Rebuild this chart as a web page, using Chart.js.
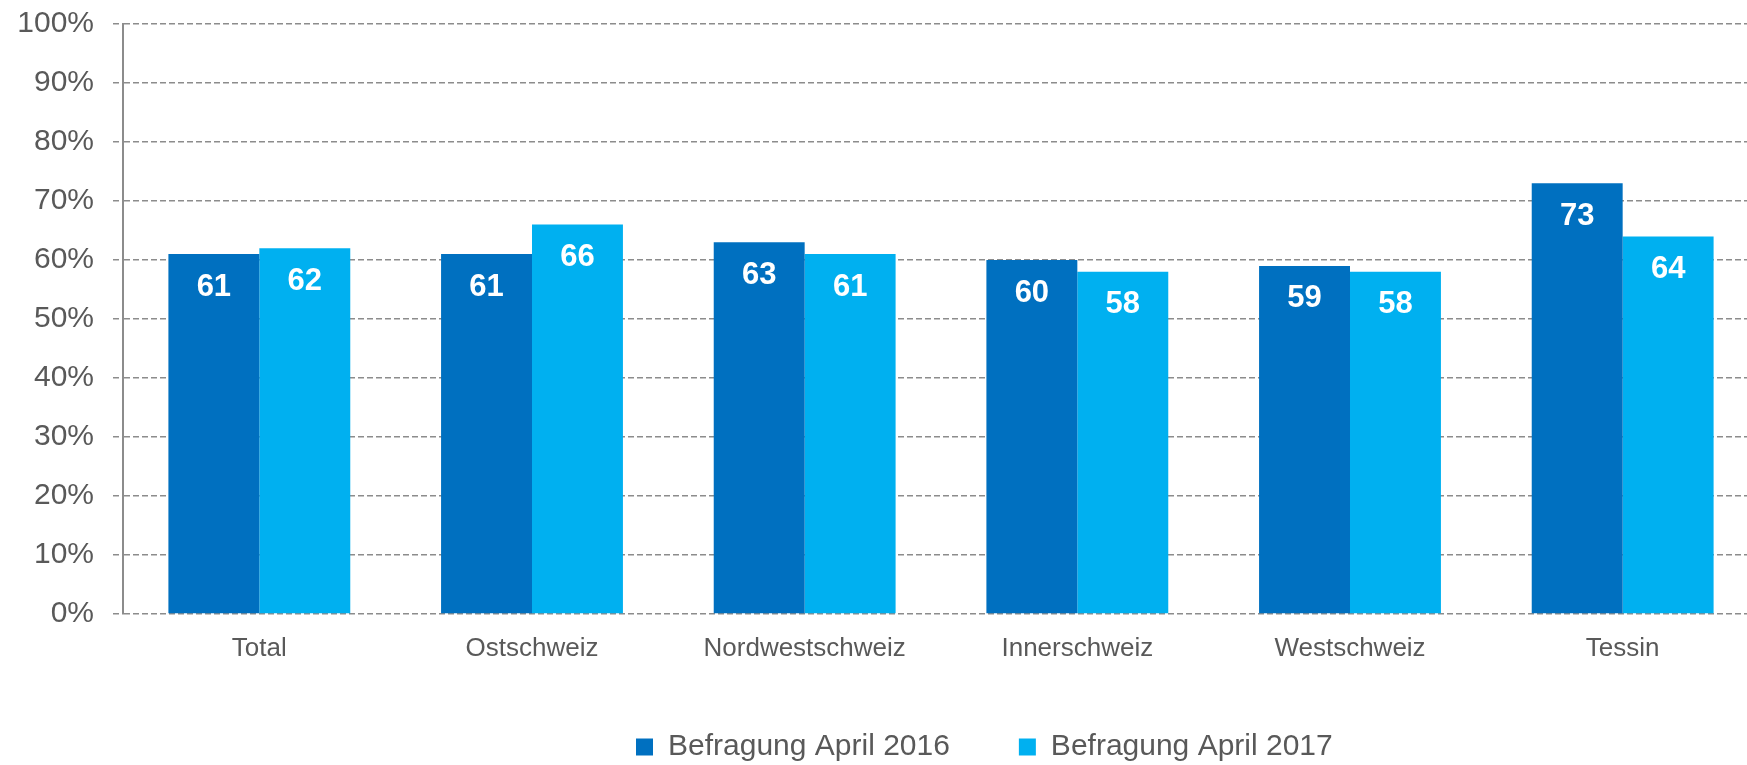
<!DOCTYPE html>
<html>
<head>
<meta charset="utf-8">
<script src="https://cdn.jsdelivr.net/npm/chart.js@4"></script>
<style>
  html, body { margin: 0; padding: 0; background: #ffffff; overflow: hidden; }
  #wrap { width: 1762px; height: 765px; }
</style>
</head>
<body>
<div id="wrap"><canvas id="c" width="1762" height="765"></canvas></div>
<script>
const categories = ['Total', 'Ostschweiz', 'Nordwestschweiz', 'Innerschweiz', 'Westschweiz', 'Tessin'];
const values2016 = [61, 61, 63, 60, 59, 73];
const values2017 = [62, 66, 61, 58, 58, 64];
const seriesNames = ['Befragung April 2016', 'Befragung April 2017'];
const yMin = 0, yMax = 100, yStep = 10;

const FONT = "'Liberation Sans', Arial, sans-serif";
const GRAY_TEXT = '#595959';
const GRID = '#8c8c8c';

const valueLabels = {
  id: 'valueLabels',
  afterDatasetsDraw(chart) {
    const ctx = chart.ctx;
    ctx.save();
    ctx.font = 'bold 31px ' + FONT;
    ctx.fillStyle = '#ffffff';
    ctx.textAlign = 'center';
    ctx.textBaseline = 'middle';
    chart.data.datasets.forEach((ds, di) => {
      const meta = chart.getDatasetMeta(di);
      meta.data.forEach((bar, i) => {
        ctx.fillText(String(ds.data[i]), bar.x, bar.y + 33);
      });
    });
    ctx.restore();
  }
};

const legendPlace = {
  id: 'legendPlace',
  afterLayout(chart) {
    const lg = chart.legend;
    if (!lg) return;
    const pad = lg.options.labels.padding;
    const itemH = lg.options.labels.font.size;
    lg.left = 636 - pad;
    lg.top = 747 - itemH / 2 - pad;
    lg.right = chart.width + 800;
    lg.bottom = chart.height;
    lg.width = lg.right - lg.left;
    lg.height = lg.bottom - lg.top;
  }
};

new Chart(document.getElementById('c'), {
  type: 'bar',
  data: {
    labels: categories,
    datasets: [
      { label: seriesNames[0], data: values2016, backgroundColor: '#0070C0', borderWidth: 0 },
      { label: seriesNames[1], data: values2017, backgroundColor: '#00B0F0', borderWidth: 0 }
    ]
  },
  options: {
    responsive: false,
    animation: false,
    devicePixelRatio: 1,
    layout: { padding: { top: 24, right: 3, bottom: 0, left: 0 } },
    datasets: { bar: { categoryPercentage: 0.667, barPercentage: 1.0 } },
    plugins: {
      tooltip: { enabled: false },
      legend: {
        position: 'bottom',
        align: 'start',
        maxHeight: 40,
        labels: {
          font: { family: FONT, size: 30 },
          color: GRAY_TEXT,
          boxWidth: 17,
          boxHeight: 17,
          padding: 69
        }
      }
    },
    scales: {
      x: {
        grid: { display: false, drawTicks: false },
        border: { display: false },
        ticks: { font: { family: FONT, size: 26 }, color: GRAY_TEXT, padding: 19, maxRotation: 0 },
        afterFit(s) { s.height = 111; }
      },
      y: {
        min: yMin,
        max: yMax,
        ticks: {
          stepSize: yStep,
          font: { family: FONT, size: 30 },
          color: GRAY_TEXT,
          padding: 19,
          callback: v => v + '%'
        },
        grid: { color: GRID, lineWidth: 1.5, tickLength: 10, tickBorderDash: [6, 3] },
        border: { display: true, color: GRID, width: 2, dash: [6, 3] },
        afterFit(s) { s.width = 123; s.paddingTop = 0; s.paddingBottom = 0; }
      }
    }
  },
  plugins: [valueLabels, legendPlace]
});
</script>
</body>
</html>
